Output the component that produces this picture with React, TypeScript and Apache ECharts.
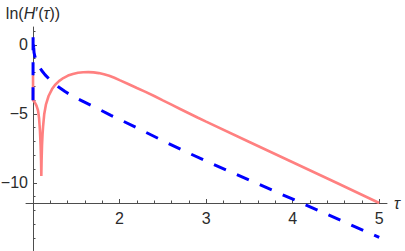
import React, { useEffect, useRef } from "react";
import * as echarts from "echarts";

// Axis ticks / labels
const tauTicks = [1, 2, 3, 4, 5];
const tauLabels = [2, 3, 4, 5];
const yTicks = [-15, -10, -5, 0];
const yLabels = [-10, -5, 0];

// Pink (solid) curve
const pinkTau = [
  1.0, 1.001, 1.02, 1.04, 1.058, 1.07, 1.08, 1.088, 1.093, 1.096, 1.099, 1.104, 1.11, 1.116,
  1.13, 1.15, 1.18, 1.22, 1.254, 1.3, 1.35, 1.405, 1.46, 1.52, 1.58, 1.64, 1.7, 1.76, 1.82,
  1.88, 1.94, 2.0, 2.1, 2.2, 2.3, 2.4, 2.5, 2.6, 2.7, 2.8, 2.9, 3.0, 3.5, 4.0, 4.5, 5.0,
];
const pinkVal = [
  -2.2, -4.0, -4.15, -4.4, -4.75, -5.3, -6.2, -7.3, -8.4, -9.5, -8.4, -7.3, -6.5, -5.94,
  -5.0, -4.3, -3.7, -3.2, -2.9, -2.62, -2.4, -2.22, -2.1, -2.02, -1.98, -1.97, -1.99, -2.04, -2.12,
  -2.23, -2.38, -2.55, -2.83, -3.12, -3.4, -3.7, -4.02, -4.33, -4.64, -4.95, -5.26, -5.56, -7.03,
  -8.5, -9.97, -11.45,
];

// Blue (dashed) curve
const blueTau = [
  1.0, 1.001, 1.004, 1.008, 1.012, 1.02, 1.035, 1.06, 1.1, 1.14, 1.2, 1.254, 1.3, 1.37, 1.45,
  1.52, 1.636, 1.775, 1.9, 2.0, 2.237, 2.503, 2.78, 3.046, 3.31, 4.12, 5.0,
];
const blueVal = [
  -4.0, 0.72, 0.2, -0.2, -0.55, -0.8, -1.1, -1.45, -1.85, -2.17, -2.55, -2.85, -3.07, -3.38,
  -3.68, -3.92, -4.27, -4.7, -5.1, -5.4, -6.12, -6.95, -7.78, -8.55, -9.28, -11.5, -13.95,
];

const FONT = "'Liberation Sans', Arial, sans-serif";
const AXIS = "#4d4d4d";
const TEXT = "#2b2b2b";

export default function App() {
  const ref = useRef<HTMLDivElement>(null);

  useEffect(() => {
    document.body.style.margin = "0";
    if (!ref.current) return;
    const chart = echarts.init(ref.current, undefined, { renderer: "svg" });

    const pinkData = pinkTau.map((t, i) => [t, pinkVal[i]]);
    const blueData = blueTau.map((t, i) => [t, blueVal[i]]);

    chart.setOption({
      animation: false,
      backgroundColor: "#ffffff",
      grid: { left: 26, right: 18, top: 27, bottom: 0.44, containLabel: false, outerBoundsMode: "none" },
      xAxis: {
        type: "value",
        min: 0.919,
        max: 5.09,
        minInterval: 1,
        maxInterval: 1,
        position: "bottom",
        offset: -47.56,
        splitLine: { show: false },
        axisLine: { show: true, onZero: false, lineStyle: { color: AXIS, width: 1 } },
        axisTick: { show: true, inside: true, length: 4, customValues: tauTicks, lineStyle: { color: AXIS } },
        minorTick: { show: true, splitNumber: 5, length: 2.5, lineStyle: { color: AXIS } },
        axisLabel: { customValues: tauLabels, margin: 7, fontSize: 16, color: TEXT, fontFamily: FONT },
        name: "τ",
        nameLocation: "end",
        nameGap: 7,
        nameTextStyle: { fontStyle: "italic", fontSize: 16, fontFamily: FONT, color: TEXT },
      },
      yAxis: {
        type: "value",
        min: -14.9,
        max: 1.3,
        minInterval: 5,
        maxInterval: 5,
        position: "left",
        offset: -7,
        splitLine: { show: false },
        axisLine: { show: true, onZero: false, lineStyle: { color: AXIS, width: 1 } },
        axisTick: { show: true, inside: true, length: 4, customValues: yTicks, lineStyle: { color: AXIS } },
        minorTick: { show: true, splitNumber: 5, length: 2.5, lineStyle: { color: AXIS } },
        axisLabel: {
          customValues: yLabels,
          margin: 5,
          fontSize: 16,
          color: TEXT,
          fontFamily: FONT,
          formatter: (v: number) => String(v).replace("-", "\u2212"),
        },
        name: "{n|ln(}{i|H}{n|\u2032(}{i|τ}{n|))}",
        nameLocation: "end",
        nameGap: 6,
        nameTextStyle: {
          fontSize: 16,
          fontFamily: FONT,
          color: TEXT,
          rich: {
            n: { fontSize: 16, fontFamily: FONT, color: TEXT },
            i: { fontSize: 16, fontFamily: FONT, color: TEXT, fontStyle: "italic" },
          },
        },
      },
      series: [
        {
          type: "line",
          data: pinkData,
          showSymbol: false,
          symbol: "none",
          smooth: false,
          lineStyle: { color: "#ff8080", width: 2.6 },
          z: 2,
        },
        {
          type: "line",
          data: blueData,
          showSymbol: false,
          symbol: "none",
          smooth: false,
          lineStyle: { color: "#0000ff", width: 3, type: [13, 12] },
          z: 3,
        },
      ],
    });

    return () => chart.dispose();
  }, []);

  return <div ref={ref} style={{ width: 405, height: 251 }} />;
}
